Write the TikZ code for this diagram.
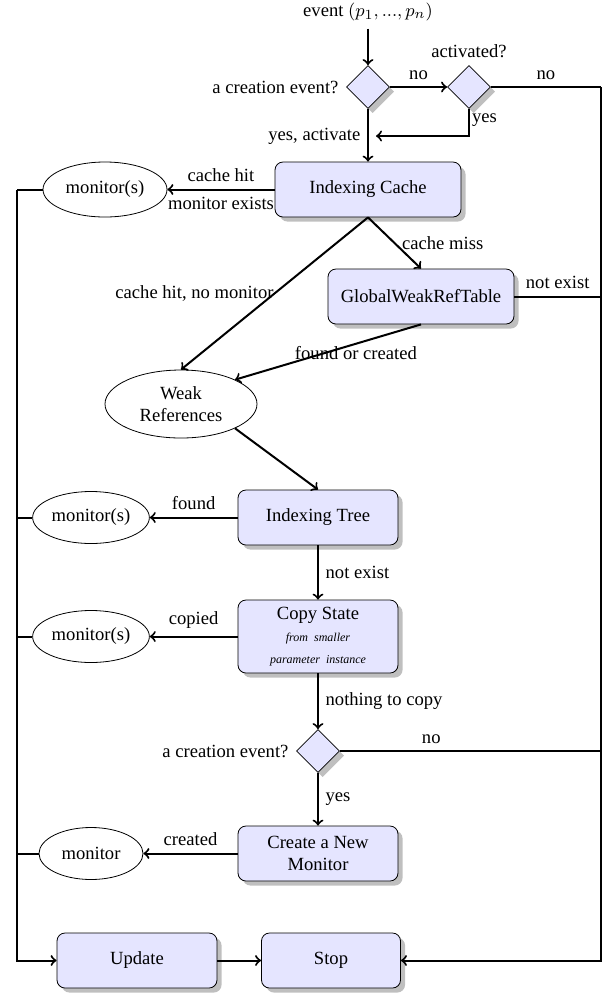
\documentclass[tikz,border=0pt]{standalone}
\usepackage{fontspec}
\setmainfont{Liberation Serif}
\usetikzlibrary{shapes.geometric,shadows}

\begin{document}
\begin{tikzpicture}[
    x=0.5pt, y=-0.5pt, line width=1pt,
    font=\fontsize{9.3}{11}\selectfont,
    box/.style={draw, thin, rounded corners=4pt, fill=blue!10, drop shadow, minimum width=80pt, minimum height=27.5pt, align=center},
    widebox/.style={box, minimum width=93pt},
    decision/.style={draw, thin, diamond, fill=blue!10, drop shadow, minimum size=21.5pt, inner sep=0pt},
    result/.style={draw, thin, ellipse, inner sep=1pt, minimum width=52pt, minimum height=26pt, align=center}
]
\useasboundingbox (0,0) rectangle (605,993);
\node (event) at (368,12) {event $(p_1, ..., p_n)$};
\node[decision, label=left:a creation event?] (create1) at (368,87) {};
\node[decision, label=above:activated?] (act) at (469,87) {};
\node[widebox] (cache) at (368,189.5) {Indexing Cache};
\node[result, minimum width=62pt, minimum height=27.5pt] (hit) at (105,189.5) {monitor(s)};
\node[widebox] (table) at (421,296.5) {GlobalWeakRefTable};
\node[result, minimum width=76pt, minimum height=34pt] (weak) at (181,404) {Weak\\References};
\node[box] (tree) at (318,517.5) {Indexing Tree};
\node[result] (found) at (91,517.5) {monitor(s)};
\node[box, minimum height=36.5pt] (copy) at (318,636.5) {
Copy State\\ {\fontsize{6}{7}\selectfont\itshape from\ \ smaller}\\ {\fontsize{6}{7}\selectfont\itshape parameter\ \ instance}
};
\node[result] (copied) at (91,636.5) {monitor(s)};
\node[decision, label=left:a creation event?] (create2) at (318,751) {};
\node[box] (new) at (318,853.5) {Create a New\\Monitor};
\node[result] (created) at (91,853.5) {monitor};
\node[box] (update) at (137,960.5) {Update};
\node[box, minimum width=69.5pt] (stop) at (331,960.5) {Stop};
\coordinate (lbus) at (17,0);
\coordinate (rbus) at (601,0);
\coordinate (back) at (376,136);
\draw[->] (event) -- (create1);
\draw[->] (create1) -- node[above]{no} (act);
\draw (act) -- node[above]{no} (act -| rbus);
\draw[->] (act.south) |- node[pos=0.2, right, inner sep=1pt]{yes} (back);
\draw[->] (create1) -- node[pos=0.52, left]{yes, activate} (cache);
\draw[->] (cache) -- node[above]{cache hit} node[below]{monitor exists} (hit);
\draw[->] (cache.south) -- node[right]{cache miss} (table.north);
\draw[->] (cache.south) -- node[left, inner sep=0pt]{cache hit, no monitor} (weak.north);
\draw[->] (table.south) -- node[pos=0.35, below, inner sep=1pt]{found or created} (weak.north east);
\draw[->] (weak.south east) -- (tree.north);
\draw (table) -- node[above]{not exist} (table -| rbus);
\draw[->] (tree) -- node[above]{found} (found);
\draw[->] (tree) -- node[right]{not exist} (copy);
\draw[->] (copy) -- node[above]{copied} (copied);
\draw[->] (copy) -- node[right]{nothing to copy} (create2);
\draw (create2) -- node[pos=0.35, above]{no} (create2 -| rbus);
\draw[->] (create2) -- node[right]{yes} (new);
\draw[->] (new) -- node[above]{created} (created);
\draw (hit) -- (hit -| lbus);
\draw (found) -- (found -| lbus);
\draw (copied) -- (copied -| lbus);
\draw (created) -- (created -| lbus);
\draw[->] (hit -| lbus) |- (update);
\draw[->] (update) -- (stop);
\draw[->] (act -| rbus) |- (stop);
\end{tikzpicture}
\end{document}
